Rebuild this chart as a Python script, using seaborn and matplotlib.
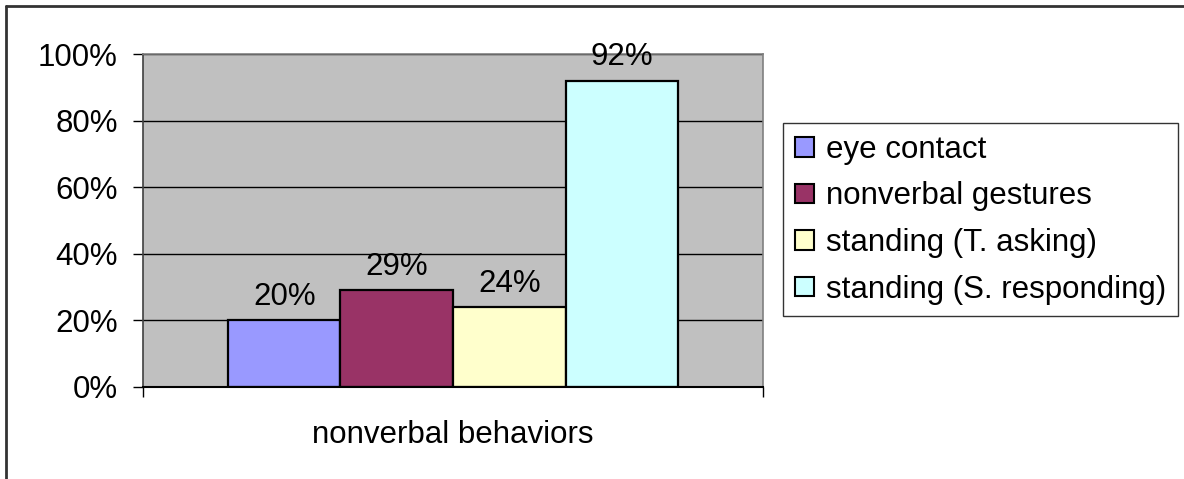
import matplotlib
matplotlib.use('Agg')
import matplotlib.pyplot as plt
import matplotlib.lines as mlines
import seaborn as sns
import pandas as pd
from matplotlib.ticker import PercentFormatter

# data
category = ['nonverbal behaviors']
behaviors = ['eye contact', 'nonverbal gestures', 'standing (T. asking)', 'standing (S. responding)']
values = [0.20, 0.29, 0.24, 0.92]
colors = ['#9999FF', '#993366', '#FFFFCC', '#CCFFFF']

df = pd.DataFrame({
    'group': category * len(behaviors),
    'behavior': behaviors,
    'value': values,
})

sns.set_style('white')
plt.rcParams['font.family'] = ['Liberation Sans', 'DejaVu Sans']
plt.rcParams['text.color'] = 'black'
plt.rcParams['xtick.color'] = 'black'
plt.rcParams['ytick.color'] = 'black'
plt.rcParams['xtick.labelcolor'] = 'black'
plt.rcParams['ytick.labelcolor'] = 'black'
FS = 22.5

fig = plt.figure(figsize=(11.84, 4.79), dpi=100)
ax = fig.add_axes([143 / 1184, 92 / 479, 620 / 1184, 333 / 479])
ax.set_facecolor('#C0C0C0')

sns.barplot(data=df, x='group', y='value', hue='behavior', hue_order=behaviors,
            palette=colors, width=0.726, edgecolor='black', linewidth=1.6,
            saturation=1, ax=ax)

for cont in ax.containers:
    ax.bar_label(cont, labels=[f'{v:.0%}' for v in cont.datavalues],
                 padding=6, fontsize=FS, color='black')

ax.set_xlim(-0.5, 0.5)
ax.set_ylim(0, 1)
ax.set_yticks([0, 0.2, 0.4, 0.6, 0.8, 1.0])
ax.yaxis.set_major_formatter(PercentFormatter(1.0, decimals=0))
ax.tick_params(axis='y', labelsize=FS, length=7, width=1, direction='out',
               left=True, color='black', pad=11)
ax.set_xticks([0])
ax.set_xticklabels(category)
ax.set_xticks([-0.5, 0.5], minor=True)
ax.tick_params(axis='x', which='major', labelsize=FS, length=0, pad=24)
ax.tick_params(axis='x', which='minor', length=7, width=1, direction='out',
               bottom=True, color='black')
ax.set_xlabel('')
ax.set_ylabel('')

ax.yaxis.grid(True, color='black', linewidth=1)
ax.set_axisbelow(True)
for s in ['top', 'right']:
    ax.spines[s].set_color('#808080')
    ax.spines[s].set_linewidth(1.2)
ax.spines['left'].set_color('#404040')
ax.spines['bottom'].set_color('black')
ax.spines['left'].set_linewidth(1.2)
ax.spines['bottom'].set_linewidth(1.5)

leg = ax.legend(loc='upper left', bbox_to_anchor=(783 / 1184, 1 - 123 / 479),
                bbox_transform=fig.transFigure, fontsize=FS, frameon=True,
                fancybox=False, handlelength=0.6, handleheight=0.6,
                handletextpad=0.4, labelspacing=0.53, borderpad=0.38,
                borderaxespad=0)
leg.get_frame().set_edgecolor('black')
leg.get_frame().set_linewidth(1)
for t in leg.get_texts():
    t.set_color('black')
for h in leg.legend_handles:
    h.set_edgecolor('black')
    h.set_linewidth(1.5)

# outer chart border (top and left only)
fig.add_artist(mlines.Line2D([6 / 1184, 6 / 1184], [0, 1 - 6 / 479],
                             transform=fig.transFigure, color='#333333', linewidth=2))
fig.add_artist(mlines.Line2D([6 / 1184, 1], [1 - 6 / 479, 1 - 6 / 479],
                             transform=fig.transFigure, color='#333333', linewidth=2))

fig.savefig('out.png', dpi=100, facecolor='white')
